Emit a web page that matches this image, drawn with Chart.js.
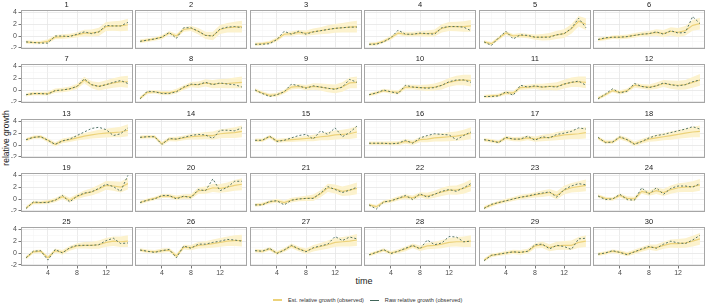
<!DOCTYPE html>
<html>
<head>
<meta charset="utf-8">
<script src="https://cdn.jsdelivr.net/npm/chart.js@4.4.1/dist/chart.umd.min.js"></script>
<style>
  body { margin: 0; background: #fff; }
  #wrap { position: relative; width: 707px; height: 303px; overflow: hidden; font-family: "Liberation Sans", Arial, sans-serif; }
  #wrap canvas { position: absolute; }
  .ytitle { position: absolute; left: 6px; top: 138px; transform: translate(-50%, -50%) rotate(-90deg); font-size: 8.5px; color: #1a1a1a; white-space: nowrap; }
  .xtitle { position: absolute; left: 364px; top: 281px; transform: translate(-50%, -50%); font-size: 9px; color: #1a1a1a; }
  .legend { position: absolute; left: 273px; top: 296px; height: 8px; display: flex; align-items: center; font-size: 5.6px; color: #333; white-space: nowrap; }
  .legend .sw { display: inline-block; width: 9px; height: 1px; margin-right: 6px; }
  .legend .gap { display: inline-block; width: 6px; }
</style>
</head>
<body>
<div id="wrap">
  <div class="ytitle">relative growth</div>
  <div class="xtitle">time</div>
  <div class="legend">
    <span class="sw" style="background:#ecd27a;height:1.5px"></span><span>Est. relative growth (observed)</span>
    <span class="gap"></span>
    <span class="sw" style="background:#41665a"></span><span>Raw relative growth (observed)</span>
  </div>
</div>
<script>
// time points and panel labels
const timePoints = [1, 2, 3, 4, 5, 6, 7, 8, 9, 10, 11, 12, 13, 14, 15];
const panelIds = [1, 2, 3, 4, 5, 6, 7, 8, 9, 10, 11, 12, 13, 14, 15,
                  16, 17, 18, 19, 20, 21, 22, 23, 24, 25, 26, 27, 28, 29, 30];
const xTickLabels = [4, 8, 12];
const yTickLabels = [-2, 0, 2, 4];

// raw relative growth (observed), one row per panel
const rawGrowth = [
  [-1.0, -1.1, -1.2, -1.2, 0.0, 0.0, -0.1, 0.3, 0.7, 0.4, 0.7, 1.8, 1.7, 1.7, 2.3],
  [-0.9, -0.7, -0.5, -0.2, 0.6, -0.4, 1.4, 1.4, 0.8, 0.1, 0.0, 1.2, 1.5, 1.6, 1.4],
  [-1.4, -1.4, -1.3, -0.6, 0.8, 0.3, 0.8, 0.3, 0.7, 0.9, 1.1, 1.3, 1.4, 1.5, 1.5],
  [-1.4, -1.4, -1.0, -0.3, 1.0, 0.3, 0.3, 0.5, 0.4, 0.3, 1.4, 1.6, 1.6, 1.5, 0.9],
  [-1.0, -1.6, -0.3, 0.8, -0.5, 0.2, 0.1, -0.2, -0.2, -0.2, 0.2, 0.4, 1.3, 3.0, 1.4],
  [-0.6, -0.3, -0.2, -0.2, -0.1, 0.1, 0.3, 0.4, 0.7, 0.3, 0.9, 0.5, 0.6, 3.3, 2.1],
  [-0.8, -0.6, -0.6, -0.7, -0.1, 0.0, 0.2, 0.6, 1.9, 0.9, 0.6, 0.9, 1.3, 1.6, 1.1],
  [-1.5, -0.2, -0.3, -0.6, -0.6, -0.3, 0.5, 1.0, 0.9, 1.3, 0.9, 1.2, 1.0, 0.9, 0.5],
  [0.0, -0.6, -1.1, -0.8, -0.3, 1.0, 0.7, 0.3, 0.7, 0.5, 0.3, 0.1, 0.5, 1.8, 1.3],
  [-0.8, -0.5, 0.0, -0.3, -0.6, 0.8, 0.5, 0.4, 0.3, 0.4, 0.8, 1.4, 1.7, 1.7, 1.3],
  [-1.1, -1.1, -1.0, -0.3, -0.9, 0.8, 0.5, 0.7, 0.5, 0.6, 0.5, 1.0, 1.3, 1.5, 0.8],
  [-1.5, -0.7, 0.2, -0.5, -0.2, 1.1, 0.6, 0.4, 0.7, 1.2, 0.9, 0.7, 0.9, 1.4, 1.7],
  [0.9, 1.3, 1.4, 0.8, 0.1, 0.7, 1.0, 1.6, 2.2, 2.8, 3.0, 2.6, 1.6, 1.9, 2.9],
  [1.3, 1.4, 1.4, 0.1, 1.1, 1.0, 1.3, 1.6, 1.8, 1.7, 1.1, 2.5, 2.5, 2.4, 2.9],
  [0.8, 0.8, 1.5, 0.6, 0.8, 1.2, 1.6, 1.8, 1.0, 2.4, 1.8, 2.9, 1.4, 2.1, 3.2],
  [0.3, 0.3, 0.3, 0.2, 0.3, 0.8, 0.3, 1.2, 1.6, 1.9, 1.8, 1.7, 0.9, 1.6, 2.2],
  [0.9, 0.7, 0.4, 1.3, 1.0, 1.0, 1.5, 0.8, 1.4, 1.2, 1.8, 2.0, 2.3, 2.9, 2.7],
  [1.3, 0.4, 0.5, 1.4, 0.9, 0.1, 0.6, 1.2, 1.6, 1.8, 2.1, 2.4, 2.7, 3.1, 2.7],
  [-1.6, -0.5, -0.6, -0.6, -0.2, 0.6, -0.5, 0.5, 1.0, 1.2, 1.8, 2.5, 2.1, 1.3, 4.0],
  [-0.6, -0.2, 0.0, 0.6, 0.6, 0.0, 0.5, 0.2, 1.6, 1.4, 3.4, 1.4, 2.0, 3.0, 3.0],
  [-1.0, -1.0, -0.4, -0.3, -1.0, -0.2, 0.0, 0.1, 0.1, 1.0, 2.1, 1.6, 1.1, 1.5, 2.0],
  [-1.0, -1.7, -0.5, -0.3, 0.1, 0.6, -0.1, 0.9, 0.3, 0.8, 1.3, 1.6, 1.3, 1.9, 2.6],
  [-1.6, -0.9, -0.6, -0.3, 0.0, 0.3, 0.5, 0.8, 1.0, 1.2, 0.3, 1.6, 2.2, 2.6, 2.4],
  [0.5, -0.1, 0.0, 0.8, -0.1, -0.2, 1.9, 0.8, 1.9, 0.8, 1.8, 2.2, 2.2, 2.0, 2.6],
  [-0.8, 0.3, 0.4, -1.2, 0.6, 0.0, 0.9, 1.3, 1.3, 1.3, 1.4, 2.1, 2.5, 1.6, 1.7],
  [0.5, 0.3, 0.1, 0.4, 0.6, -0.8, 1.2, 0.8, 1.5, 1.5, 1.8, 2.0, 2.3, 2.2, 2.0],
  [0.4, 0.3, 0.8, -0.1, 0.5, 1.3, 0.7, 0.2, 0.9, 1.2, 1.5, 2.8, 2.1, 2.7, 2.4],
  [-0.3, 0.1, 0.6, -0.1, 0.3, 0.8, 1.3, 0.7, 2.2, 1.4, 1.7, 2.8, 2.7, 1.9, 2.0],
  [-1.3, -0.4, -0.2, 0.0, 0.2, 0.1, 0.3, 1.4, 1.5, 0.7, 1.3, 1.1, 0.6, 2.4, 2.5],
  [-0.2, 0.0, 0.4, 0.1, -0.3, 0.2, 0.7, 1.1, 0.8, 1.5, 2.0, 1.7, 1.6, 2.2, 3.0]
];

// estimated relative growth (observed), one row per panel
const estGrowth = [
  [-1.0, -1.1, -1.1, -0.9, -0.2, -0.1, 0.0, 0.2, 0.5, 0.5, 0.7, 1.6, 1.7, 1.7, 1.9],
  [-0.9, -0.7, -0.5, -0.2, 0.5, 0.0, 1.1, 1.3, 0.8, 0.1, 0.0, 1.1, 1.4, 1.5, 1.6],
  [-1.4, -1.3, -1.1, -0.6, 0.3, 0.4, 0.6, 0.5, 0.7, 0.9, 1.1, 1.3, 1.4, 1.5, 1.6],
  [-1.4, -1.3, -0.9, -0.3, 0.5, 0.3, 0.3, 0.4, 0.4, 0.5, 1.3, 1.6, 1.6, 1.6, 1.7],
  [-1.0, -1.3, -0.4, 0.5, 0.0, 0.1, 0.0, -0.2, -0.2, -0.1, 0.2, 0.4, 1.2, 2.5, 2.0],
  [-0.6, -0.4, -0.2, -0.2, -0.1, 0.1, 0.3, 0.4, 0.6, 0.4, 0.8, 0.6, 0.9, 1.8, 2.1],
  [-0.8, -0.6, -0.6, -0.6, -0.1, 0.0, 0.2, 0.6, 1.7, 0.9, 0.6, 0.9, 1.2, 1.4, 1.4],
  [-1.4, -0.4, -0.3, -0.5, -0.5, -0.2, 0.4, 0.9, 0.9, 1.2, 1.0, 1.1, 1.1, 1.2, 1.3],
  [0.0, -0.5, -0.9, -0.8, -0.3, 0.5, 0.6, 0.4, 0.6, 0.5, 0.3, 0.2, 0.5, 1.2, 1.3],
  [-0.8, -0.5, -0.1, -0.3, -0.4, 0.5, 0.5, 0.4, 0.4, 0.5, 0.8, 1.3, 1.6, 1.7, 1.6],
  [-1.1, -1.0, -0.9, -0.5, -0.5, 0.4, 0.5, 0.6, 0.5, 0.6, 0.6, 1.0, 1.3, 1.4, 1.3],
  [-1.4, -0.8, -0.1, -0.4, -0.1, 0.8, 0.6, 0.5, 0.7, 1.1, 0.9, 0.8, 0.9, 1.3, 1.7],
  [0.9, 1.3, 1.4, 0.8, 0.1, 0.7, 0.9, 1.2, 1.5, 1.7, 1.9, 2.0, 2.1, 2.2, 2.5],
  [1.3, 1.4, 1.4, 0.2, 1.0, 1.0, 1.2, 1.4, 1.5, 1.6, 1.6, 1.9, 2.0, 2.1, 2.3],
  [0.8, 0.8, 1.4, 0.7, 0.8, 0.9, 1.0, 1.1, 1.2, 1.4, 1.5, 1.7, 1.8, 1.9, 2.2],
  [0.3, 0.3, 0.3, 0.3, 0.3, 0.6, 0.4, 0.9, 1.0, 1.2, 1.3, 1.4, 1.5, 1.7, 2.0],
  [0.9, 0.7, 0.5, 1.2, 1.0, 1.0, 1.2, 1.0, 1.2, 1.3, 1.5, 1.7, 1.8, 1.9, 2.1],
  [1.2, 0.5, 0.5, 1.3, 0.9, 0.2, 0.6, 1.0, 1.2, 1.4, 1.6, 1.8, 2.0, 2.2, 2.3],
  [-1.5, -0.6, -0.6, -0.5, -0.2, 0.4, -0.2, 0.4, 0.9, 1.2, 1.7, 2.3, 2.2, 2.0, 2.6],
  [-0.6, -0.2, 0.1, 0.5, 0.5, 0.2, 0.4, 0.4, 1.4, 1.5, 1.9, 1.8, 2.0, 2.3, 2.5],
  [-1.0, -0.9, -0.5, -0.3, -0.6, -0.2, 0.0, 0.1, 0.2, 0.9, 1.9, 1.7, 1.3, 1.5, 1.8],
  [-1.0, -1.3, -0.5, -0.3, 0.1, 0.4, 0.2, 0.7, 0.5, 0.8, 1.2, 1.5, 1.5, 1.8, 2.3],
  [-1.5, -1.0, -0.6, -0.3, 0.0, 0.3, 0.5, 0.7, 0.9, 1.1, 0.6, 1.5, 1.9, 2.1, 2.3],
  [0.5, 0.1, 0.0, 0.6, 0.1, 0.0, 1.3, 1.0, 1.4, 1.1, 1.6, 1.9, 2.0, 2.1, 2.4],
  [-0.8, 0.2, 0.3, -0.8, 0.4, 0.1, 0.8, 1.2, 1.3, 1.3, 1.4, 1.8, 2.0, 1.9, 2.0],
  [0.5, 0.3, 0.2, 0.4, 0.5, -0.5, 1.0, 0.9, 1.3, 1.4, 1.6, 1.8, 2.0, 2.1, 2.1],
  [0.4, 0.3, 0.7, 0.0, 0.5, 1.2, 0.7, 0.3, 0.8, 1.1, 1.4, 1.8, 1.9, 2.0, 2.2],
  [-0.3, 0.1, 0.5, 0.0, 0.3, 0.7, 1.2, 0.8, 1.2, 1.3, 1.5, 1.8, 1.9, 1.9, 2.0],
  [-1.2, -0.4, -0.2, 0.0, 0.2, 0.1, 0.3, 1.2, 1.4, 0.9, 1.2, 1.3, 1.3, 1.8, 2.0],
  [-0.2, 0.0, 0.3, 0.1, -0.2, 0.2, 0.6, 1.0, 0.9, 1.3, 1.6, 1.6, 1.7, 2.0, 2.4]
];

// half width of the uncertainty ribbon at each time point
const bandHalfWidth = [0.3, 0.3, 0.3, 0.35, 0.35, 0.4, 0.4, 0.45, 0.55, 0.6, 0.7, 0.75, 0.8, 0.9, 1.0];

const estColor = '#ecd27a';
const ribbonColor = '#fcf2cd';
const rawColor = '#41665a';
const tickFont = { family: 'Liberation Sans', size: 7 };

// grey frame around each panel, like ggplot's panel.border
const panelBorder = {
  id: 'panelBorder',
  afterDraw(chart) {
    const a = chart.chartArea;
    const ctx = chart.ctx;
    ctx.save();
    ctx.strokeStyle = '#a6a6a6';
    ctx.lineWidth = 1;
    ctx.strokeRect(Math.round(a.left) + 0.5, Math.round(a.top) + 0.5,
                   Math.round(a.right - a.left) - 1, Math.round(a.bottom - a.top) - 1);
    ctx.restore();
  }
};

const wrap = document.getElementById('wrap');
const plotLeft0 = 21, colPitch = 114.4, plotW = 112;
const plotTop0 = 10, rowPitch = 54.25, plotH = 39;
const titleSpace = 10, yAxisSpace = 21, xAxisSpace = 11;

panelIds.forEach((id, i) => {
  const row = Math.floor(i / 6);
  const col = i % 6;
  const firstCol = col === 0;
  const lastRow = row === 4;

  const pl = Math.round(plotLeft0 + col * colPitch);
  const pt = Math.round(plotTop0 + row * rowPitch);
  const left = firstCol ? pl - yAxisSpace : pl;
  const width = plotW + (firstCol ? yAxisSpace : 0);
  const top = pt - titleSpace;
  const height = titleSpace + plotH + (lastRow ? xAxisSpace : 0);

  const canvas = document.createElement('canvas');
  canvas.width = width;
  canvas.height = height;
  canvas.style.left = left + 'px';
  canvas.style.top = top + 'px';
  canvas.style.width = width + 'px';
  canvas.style.height = height + 'px';
  wrap.appendChild(canvas);

  const raw = timePoints.map((t, k) => ({ x: t, y: rawGrowth[i][k] }));
  const est = timePoints.map((t, k) => ({ x: t, y: estGrowth[i][k] }));
  const upper = timePoints.map((t, k) => ({ x: t, y: estGrowth[i][k] + bandHalfWidth[k] }));
  const lower = timePoints.map((t, k) => ({ x: t, y: estGrowth[i][k] - bandHalfWidth[k] }));

  new Chart(canvas.getContext('2d'), {
    type: 'line',
    data: {
      datasets: [
        { label: 'Raw relative growth (observed)', data: raw, borderColor: rawColor, borderWidth: 0.9,
          borderDash: [2, 2], pointRadius: 0, fill: false, tension: 0, order: 0 },
        { label: 'Est. relative growth (observed)', data: est, borderColor: estColor, borderWidth: 1.2,
          pointRadius: 0, fill: false, tension: 0, order: 1 },
        { label: 'upper', data: upper, borderWidth: 0, borderColor: 'transparent', pointRadius: 0,
          backgroundColor: ribbonColor, fill: '+1', tension: 0, order: 2 },
        { label: 'lower', data: lower, borderWidth: 0, borderColor: 'transparent', pointRadius: 0,
          fill: false, tension: 0, order: 3 }
      ]
    },
    options: {
      responsive: false,
      animation: false,
      devicePixelRatio: 1,
      layout: { padding: 0 },
      plugins: {
        legend: { display: false },
        tooltip: { enabled: false },
        title: {
          display: true,
          text: String(id),
          color: '#1a1a1a',
          font: { family: 'Liberation Sans', size: 7.5, weight: 'normal', lineHeight: 1 },
          padding: { top: 1, bottom: 1.5 }
        }
      },
      scales: {
        x: {
          type: 'linear',
          min: 0.3,
          max: 15.7,
          border: { display: false },
          grid: {
            color: (c) => (c.tick.value % 4 === 0 ? '#e6e6e6' : '#f3f3f3'),
            lineWidth: (c) => (c.tick.value % 4 === 0 ? 0.8 : 0.5),
            drawTicks: lastRow,
            tickLength: 2.5,
            tickColor: (c) => (xTickLabels.includes(c.tick.value) ? '#555' : 'transparent')
          },
          ticks: {
            display: lastRow,
            stepSize: 2,
            includeBounds: false,
            autoSkip: false,
            maxRotation: 0,
            padding: 0.5,
            color: '#4d4d4d',
            font: tickFont,
            callback: (v) => (xTickLabels.includes(v) ? String(v) : '')
          },
          afterFit: (s) => {
            s.height = lastRow ? xAxisSpace : 0;
            s.paddingLeft = s.paddingRight = 0;
          }
        },
        y: {
          type: 'linear',
          min: -2.2,
          max: 4.4,
          border: { display: false },
          grid: {
            color: (c) => (c.tick.value % 2 === 0 ? '#e6e6e6' : '#f3f3f3'),
            lineWidth: (c) => (c.tick.value % 2 === 0 ? 0.8 : 0.5),
            drawTicks: firstCol,
            tickLength: 2.5,
            tickColor: (c) => (yTickLabels.includes(c.tick.value) ? '#555' : 'transparent')
          },
          ticks: {
            display: firstCol,
            stepSize: 1,
            includeBounds: false,
            autoSkip: false,
            padding: 1.5,
            color: '#4d4d4d',
            font: tickFont,
            callback: (v) => (yTickLabels.includes(v) ? String(v) : '')
          },
          afterFit: (s) => {
            s.width = firstCol ? yAxisSpace : 0;
            s.paddingTop = s.paddingBottom = 0;
          }
        }
      }
    },
    plugins: [panelBorder]
  });
});
</script>
</body>
</html>
